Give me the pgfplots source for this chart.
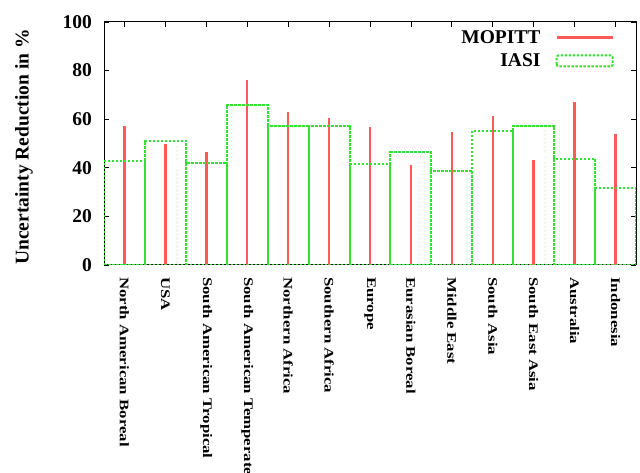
\documentclass[border=0pt]{standalone}
\usepackage{fontspec}
\setmainfont{Liberation Serif}
\usepackage{graphicx}
\usepackage{pgfplots}
\pgfplotsset{compat=1.18}
\definecolor{mred}{RGB}{255,90,90}
\definecolor{mgreen}{RGB}{50,225,50}
\newcommand{\xl}[1]{\scalebox{1}[0.78]{#1}}
\begin{document}
\begin{tikzpicture}[x=1pt,y=1pt]
\clip (0,0) rectangle (640,473);
\begin{axis}[
  at={(104pt,208pt)}, anchor=south west,
  scale only axis, width=532pt, height=243pt,
  xmin=-0.5, xmax=12.5, ymin=0, ymax=100,
  xtick={0,...,12},
  xticklabels={\xl{North American Boreal},\xl{USA},\xl{South American Tropical},\xl{South American Temperate},\xl{Northern Africa},\xl{Southern Africa},\xl{Europe},\xl{Eurasian Boreal},\xl{Middle East},\xl{South Asia},\xl{South East Asia},\xl{Australia},\xl{Indonesia}},
  ytick={0,20,40,60,80,100},
  /pgf/number format/assume math mode=true,
  tick align=inside, major tick length=5pt,
  tick style={black, line width=0.8pt},
  axis line style={black, line width=1pt},
  xticklabel style={rotate=-90, anchor=west, inner sep=0pt, font=\fontsize{16.8}{18}\selectfont\bfseries},
  xticklabel shift=12pt,
  yticklabel style={inner sep=0pt, font=\fontsize{19.5}{22}\selectfont\bfseries},
  yticklabel shift=12pt,
  ylabel={Uncertainty Reduction in \%},
  ylabel style={at={(axis description cs:-0.1335,0.486)}, anchor=south, rotate=0, inner sep=0pt, font=\fontsize{19.5}{22}\selectfont\bfseries},
  legend style={draw=none, fill=none, at={(axis description cs:0.959,0.975)}, anchor=north east, inner sep=0pt, font=\fontsize{19.5}{22}\selectfont\bfseries, legend cell align=right, row sep=5pt,
    /tikz/every odd column/.append style={column sep=13pt}},
  legend plot pos=right,
]
\addplot[ycomb, no marks, draw=mred, line width=2.5pt,
  legend image code/.code={\draw[mred, line width=2.5pt] (0pt,0pt) -- (56pt,0pt);}]
  coordinates {(0,57.3) (1,49.7) (2,46.3) (3,76.3) (4,62.9) (5,60.3) (6,56.8) (7,41.1) (8,54.8) (9,61.2) (10,43.4) (11,66.9) (12,54.1)};
\addlegendentry{MOPITT}
\addplot[ybar, bar width=1, bar shift=0pt, draw=mgreen, fill=none, line width=2pt, dash pattern=on 2.5pt off 1.5pt,
  legend image code/.code={\draw[mgreen, line width=2pt, dash pattern=on 2.5pt off 1.5pt, rounded corners=2pt] (0pt,-5.5pt) rectangle (56pt,5.5pt);}]
  coordinates {(0,42.9) (1,51.2) (2,42.1) (3,66.0) (4,57.3) (5,57.3) (6,41.5) (7,46.3) (8,38.8) (9,55.2) (10,57.4) (11,43.7) (12,31.5)};
\addlegendentry{IASI}
\end{axis}
\end{tikzpicture}
\end{document}
